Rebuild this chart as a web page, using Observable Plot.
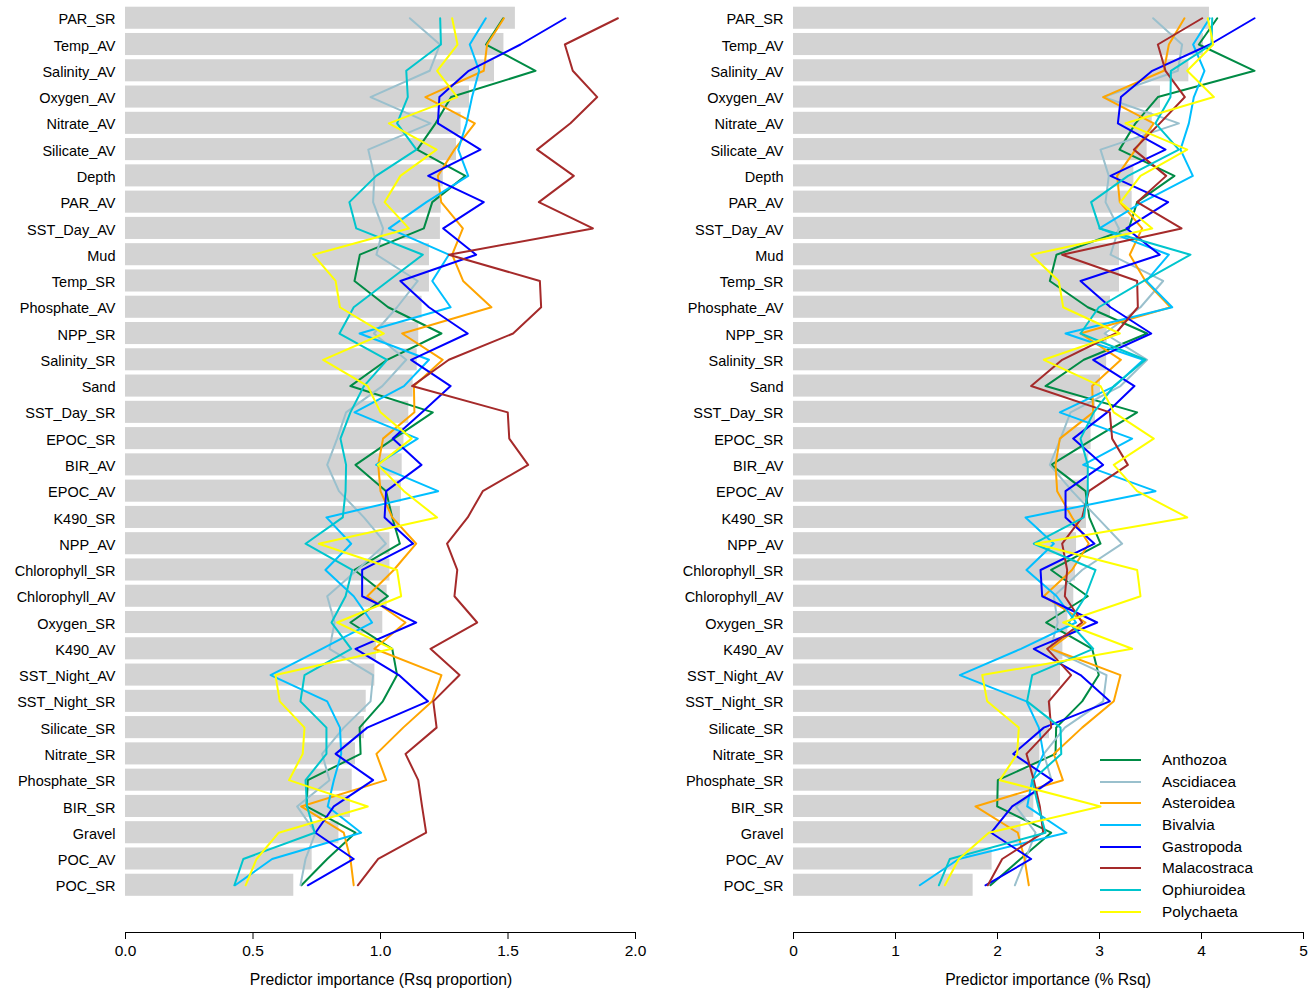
<!DOCTYPE html>
<html><head><meta charset="utf-8">
<script src="https://cdn.jsdelivr.net/npm/d3@7"></script>
<script src="https://cdn.jsdelivr.net/npm/@observablehq/plot@0.6"></script>
<style>
body{margin:0;background:#fff;font-family:"Liberation Sans",Arial,sans-serif;}
#wrap{position:relative;width:1308px;height:990px;overflow:hidden;}
#left{position:absolute;left:0;top:0}
#right{position:absolute;left:668px;top:0}
.xtitle{position:absolute;top:969.5px;font-size:15.7px;color:#000;white-space:nowrap;transform:translateX(-50%);line-height:20px;}
#legend{position:absolute;left:1100px;top:749px;font-size:15.3px;color:#000;}
#legend .row{display:flex;align-items:center;height:21.7px;}
#legend svg{display:block;margin-right:21px;}
</style>
</head><body>
<div id="wrap">
  <div id="left"></div>
  <div id="right"></div>
  <div class="xtitle" style="left:381px">Predictor importance (Rsq proportion)</div>
  <div class="xtitle" style="left:1048px">Predictor importance (% Rsq)</div>
  <div id="legend"></div>
</div>
<script>
const predictors = ["PAR_SR","Temp_AV","Salinity_AV","Oxygen_AV","Nitrate_AV","Silicate_AV","Depth","PAR_AV","SST_Day_AV","Mud","Temp_SR","Phosphate_AV","NPP_SR","Salinity_SR","Sand","SST_Day_SR","EPOC_SR","BIR_AV","EPOC_AV","K490_SR","NPP_AV","Chlorophyll_SR","Chlorophyll_AV","Oxygen_SR","K490_AV","SST_Night_AV","SST_Night_SR","Silicate_SR","Nitrate_SR","Phosphate_SR","BIR_SR","Gravel","POC_AV","POC_SR"];
const taxa = ["Anthozoa","Ascidiacea","Asteroidea","Bivalvia","Gastropoda","Malacostraca","Ophiuroidea","Polychaeta"];
const taxonColors = ["#008B45","#9AC0CD","#FFA500","#00BFFF","#0000FF","#A52A2A","#00C5CD","#FFFF00"];

// Left panel: Rsq proportion
const propBar = [1.529,1.484,1.447,1.349,1.316,1.298,1.246,1.238,1.235,1.192,1.192,1.163,1.150,1.144,1.128,1.111,1.092,1.085,1.082,1.078,1.037,1.037,1.026,1.009,0.984,0.978,0.944,0.937,0.902,0.889,0.882,0.837,0.732,0.660];
const propAnthozoa = [1.481,1.414,1.608,1.277,1.216,1.144,1.333,1.203,1.170,0.919,0.898,1.030,1.239,1.026,0.882,1.205,1.052,0.902,1.022,1.046,1.076,0.898,1.029,0.882,1.046,1.065,1.009,0.918,0.922,0.715,0.710,0.902,0.791,0.690];
const propAscidiacea = [1.115,1.233,1.193,0.961,1.196,0.952,0.976,0.971,1.010,0.984,1.146,1.065,0.974,1.101,1.007,0.865,0.830,0.791,0.837,0.935,1.021,0.908,0.791,0.82,0.80,0.971,0.961,0.856,0.771,0.80,0.673,0.745,0.706,0.686];
const propAsteroidea = [1.484,1.418,1.405,1.176,1.370,1.290,1.225,1.238,1.323,1.281,1.324,1.435,1.085,1.244,1.131,1.133,1.010,0.991,1.000,1.046,1.140,1.052,0.948,1.098,0.976,1.239,1.203,1.089,0.984,1.022,0.689,0.856,0.882,0.895];
const propBivalvia = [1.413,1.350,1.387,1.359,1.337,1.305,1.344,1.18,1.033,1.268,1.203,1.275,0.918,1.190,1.092,0.898,1.146,0.983,1.226,0.788,0.885,0.784,0.895,0.967,0.77,0.569,0.791,0.841,0.846,0.817,0.793,0.924,0.575,0.43];
const propGastropoda = [1.725,1.549,1.346,1.231,1.225,1.392,1.187,1.405,1.246,1.375,1.078,1.190,1.342,1.120,1.275,1.163,1.048,1.161,1.022,1.016,1.128,0.928,0.928,1.140,0.902,1.072,1.186,0.948,0.824,0.971,0.817,0.745,0.895,0.715];
const propMalacostraca = [1.931,1.723,1.754,1.850,1.745,1.614,1.758,1.621,1.833,1.268,1.625,1.630,1.520,1.268,1.124,1.499,1.505,1.579,1.401,1.342,1.261,1.301,1.290,1.379,1.196,1.310,1.207,1.220,1.098,1.148,1.163,1.179,0.991,0.911];
const propOphiuroidea = [1.234,1.237,1.101,1.107,1.065,1.141,0.983,0.878,0.905,1.166,1.030,0.895,0.839,1.026,0.935,0.882,0.843,0.865,0.863,0.852,0.706,0.889,0.863,0.808,0.885,0.702,0.686,0.788,0.788,0.706,0.712,0.742,0.462,0.427];
const propPolychaeta = [1.281,1.302,1.222,1.301,1.033,1.220,1.078,1.016,1.111,0.736,0.824,0.841,1.013,0.775,0.950,1.000,1.122,0.990,1.092,1.222,0.758,1.065,1.081,0.830,1.046,0.588,0.605,0.702,0.695,0.641,0.950,0.601,0.514,0.471];

// Right panel: % Rsq
const pctBar = [4.078,4.02,3.876,3.598,3.517,3.467,3.337,3.320,3.30,3.196,3.196,3.108,3.075,3.07,3.010,2.961,2.918,2.895,2.885,2.872,2.775,2.765,2.748,2.69,2.641,2.618,2.526,2.51,2.415,2.37,2.356,2.23,1.947,1.761];
const pctAnthozoa = [4.154,3.974,4.520,3.572,3.353,3.196,3.735,3.369,3.288,2.578,2.513,2.885,3.467,2.846,2.471,3.369,2.944,2.526,2.863,2.900,3.010,2.526,2.885,2.477,2.928,2.993,2.830,2.575,2.569,2.003,1.997,2.526,2.225,1.931];
const pctAscidiacea = [3.526,3.810,3.768,3.04,3.778,3.010,3.091,3.059,3.190,3.108,3.624,3.402,3.05,3.467,3.206,2.716,2.618,2.513,2.732,2.977,3.222,2.830,2.552,2.59,2.52,3.069,3.036,2.66,2.454,2.53,2.18,2.373,2.275,2.170];
const pctAsteroidea = [3.833,3.680,3.631,3.036,3.532,3.353,3.173,3.199,3.418,3.297,3.45,3.696,2.814,3.210,2.928,2.938,2.611,2.569,2.585,2.732,2.895,2.73,2.454,2.863,2.520,3.206,3.140,2.830,2.552,2.641,1.784,2.199,2.265,2.307];
const pctBivalvia = [4.08,3.918,4.029,3.925,3.876,3.794,3.915,3.42,3.0,3.680,3.46,3.713,2.667,3.43,3.15,2.611,3.320,2.840,3.549,2.275,2.552,2.284,2.58,2.77,2.23,1.631,2.284,2.405,2.45,2.340,2.291,2.676,1.62,1.238];
const pctGastropoda = [4.520,4.082,3.517,3.210,3.180,3.647,3.108,3.673,3.265,3.591,2.814,3.108,3.507,2.938,3.343,3.075,2.742,3.036,2.667,2.667,2.951,2.422,2.438,2.977,2.356,2.814,3.101,2.454,2.154,2.536,2.144,1.938,2.330,1.882];
const pctMalacostraca = [4.007,3.572,3.647,3.837,3.591,3.337,3.654,3.369,3.804,2.634,3.369,3.376,3.157,2.634,2.330,3.101,3.124,3.278,2.895,2.830,2.634,2.683,2.660,2.830,2.487,2.722,2.503,2.526,2.284,2.356,2.415,2.448,2.046,1.905];
const pctOphiuroidea = [4.105,4.098,3.70,3.696,3.549,3.778,3.28,2.918,3.003,3.892,3.434,2.993,2.814,3.451,3.14,2.944,2.814,2.885,2.885,2.846,2.356,2.961,2.863,2.70,2.938,2.340,2.29,2.618,2.625,2.34,2.40,2.471,1.533,1.425];
const pctPolychaeta = [4.062,4.115,3.860,4.121,3.255,3.860,3.402,3.206,3.517,2.330,2.601,2.644,3.199,2.454,3.010,3.140,3.532,3.140,3.369,3.860,2.373,3.369,3.402,2.644,3.320,1.850,1.899,2.209,2.193,2.023,3.010,1.915,1.621,1.484];

const leftTicks = [0, 0.5, 1, 1.5, 2];
const rightTicks = [0, 1, 2, 3, 4, 5];

function panel(barVals, series, xDomain, ticks, fmt, width, marginRight) {
  const bars = predictors.map((p, i) => ({predictor: p, value: barVals[i]}));
  const lines = taxa.flatMap((t, k) => predictors.map((p, i) => ({taxon: t, predictor: p, value: series[k][i]})));
  const svg = Plot.plot({
    width, height: 990,
    marginLeft: 125, marginRight, marginTop: 0, marginBottom: 58,
    style: {fontFamily: "'Liberation Sans', Arial, sans-serif", fontSize: "14.5px", color: "#000", background: "#fff"},
    x: {domain: xDomain, ticks, tickFormat: fmt, line: true, tickSize: 7, tickPadding: 5, label: null},
    y: {domain: predictors, range: [2.5, 900], padding: 0.16, round: false, tickSize: 0, tickPadding: 10, label: null},
    color: {domain: taxa, range: taxonColors},
    marks: [
      Plot.barX(bars, {x: "value", y: "predictor", fill: "#d3d3d3"}),
      Plot.line(lines, {x: "value", y: "predictor", z: "taxon", stroke: "taxon", strokeWidth: 2})
    ]
  });
  svg.querySelectorAll('[aria-label^="x-axis"]').forEach(g => g.setAttribute("font-size", "15.5"));
  svg.querySelectorAll('[aria-label^="x-axis"] text').forEach(t => t.style.fontSize = "15.5px");
  svg.querySelectorAll('[aria-label^="y-axis"] text').forEach(t => t.setAttribute("dy", (parseFloat(t.getAttribute("dy")) || 0) + "em"));
  svg.querySelectorAll('[aria-label^="y-axis"]').forEach(g => {
    const w = document.createElementNS("http://www.w3.org/2000/svg", "g");
    w.setAttribute("transform", "translate(0,1.5)");
    g.parentNode.insertBefore(w, g);
    w.appendChild(g);
  });
  return svg;
}

document.getElementById("left").append(panel(propBar,
  [propAnthozoa, propAscidiacea, propAsteroidea, propBivalvia, propGastropoda, propMalacostraca, propOphiuroidea, propPolychaeta],
  [0, 2], leftTicks, d3.format(".1f"), 668, 33));
document.getElementById("right").append(panel(pctBar,
  [pctAnthozoa, pctAscidiacea, pctAsteroidea, pctBivalvia, pctGastropoda, pctMalacostraca, pctOphiuroidea, pctPolychaeta],
  [0, 5], rightTicks, d3.format("d"), 640, 5));

const legend = document.getElementById("legend");
taxa.forEach((t, i) => {
  const row = document.createElement("div");
  row.className = "row";
  row.innerHTML = `<svg width="41" height="4"><line x1="0" x2="41" y1="2" y2="2" stroke="${taxonColors[i]}" stroke-width="2"/></svg><span>${t}</span>`;
  legend.append(row);
});
</script>
</body></html>
